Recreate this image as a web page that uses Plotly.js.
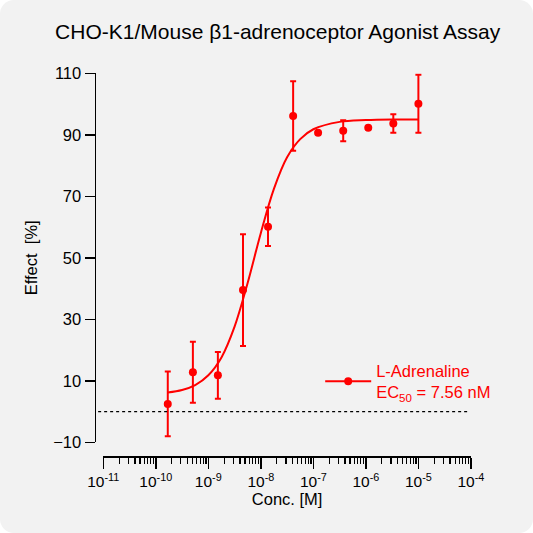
<!DOCTYPE html>
<html>
<head>
<meta charset="utf-8">
<script src="https://cdn.plot.ly/plotly-3.0.1.min.js"></script>
<style>
  html, body { margin: 0; padding: 0; background: #ffffff; }
  #panel {
    width: 533px; height: 533px;
    background: #f2f2f2;
    border-radius: 14px;
    overflow: hidden;
  }
</style>
</head>
<body>
<div id="panel"><div id="chart" style="width:533px;height:533px;"></div></div>
<script>
// Measured points (mean +/- SD), 3-fold dilution series
var conc = [1.69e-10, 5.08e-10, 1.52e-9, 4.57e-9, 1.37e-8, 4.12e-8, 1.23e-7, 3.70e-7, 1.11e-6, 3.33e-6, 1.0e-5];
var effect = [2.5, 12.8, 11.8, 39.5, 60.1, 96.1, 90.7, 91.3, 92.3, 93.7, 100.1];
var effectErr = [10.5, 9.9, 7.6, 18.2, 6.3, 11.3, null, 3.4, null, 3.0, 9.4];

// Fitted curve
var fitConc = [1.69e-10, 3.16e-10, 5.62e-10, 1e-9, 1.78e-9, 3.16e-9, 5.62e-9, 1e-8, 1.78e-8, 3.16e-8, 5.62e-8, 1e-7, 3.16e-7, 1e-6, 3.16e-6, 1e-5];
var fitEffect = [6.2, 7.0, 8.6, 11.8, 17.6, 27.6, 41.9, 58.1, 72.5, 82.7, 88.6, 91.8, 94.2, 94.8, 95.0, 95.0];

var xTickVals = [1e-11, 1e-10, 1e-9, 1e-8, 1e-7, 1e-6, 1e-5, 1e-4];
var xTickText = ['10<sup>-11</sup>', '10<sup>-10</sup>', '10<sup>-9</sup>', '10<sup>-8</sup>',
                 '10<sup>-7</sup>', '10<sup>-6</sup>', '10<sup>-5</sup>', '10<sup>-4</sup>'];
var yTickVals = [-10, 10, 30, 50, 70, 90, 110];

var compoundName = 'L-Adrenaline';
var ec50Label = 'EC<sub>50</sub> = 7.56 nM';

var red = '#ff0000';

var fitTrace = {
  x: fitConc,
  y: fitEffect,
  type: 'scatter',
  mode: 'lines',
  line: { color: red, width: 2, shape: 'spline' },
  showlegend: false,
  hoverinfo: 'skip'
};

var pointTrace = {
  x: conc,
  y: effect,
  type: 'scatter',
  mode: 'markers',
  marker: { color: red, size: 8 },
  error_y: { type: 'data', array: effectErr, visible: true, color: red, thickness: 2, width: 3 },
  showlegend: false
};

// legend entry only
var legendTrace = {
  x: [null],
  y: [null],
  type: 'scatter',
  mode: 'lines+markers',
  name: compoundName + '<br>' + ec50Label,
  line: { color: red, width: 2 },
  marker: { color: red, size: 8 }
};

var layout = {
  width: 533,
  height: 533,
  paper_bgcolor: 'rgba(0,0,0,0)',
  plot_bgcolor: 'rgba(0,0,0,0)',
  margin: { l: 80, r: 50, t: 60, b: 60 },
  font: { family: 'Liberation Sans, Arial, sans-serif', size: 15, color: '#000000' },
  title: {
    text: 'CHO-K1/Mouse β1-adrenoceptor Agonist Assay',
    font: { size: 21, color: '#000000' },
    xref: 'container', yref: 'container',
    x: 0.521, xanchor: 'center',
    y: 0.941, yanchor: 'middle'
  },
  xaxis: {
    type: 'log',
    range: [-11, -4],
    domain: [0.0578, 0.970],
    anchor: 'free',
    position: 0.041,
    showgrid: false,
    zeroline: false,
    showline: true,
    linecolor: '#000000',
    linewidth: 1.5,
    ticks: 'outside',
    ticklen: 11,
    tickwidth: 1.5,
    tickcolor: '#000000',
    tickvals: xTickVals,
    ticktext: xTickText,
    tickfont: { size: 15.5 },
    minor: { ticks: 'outside', ticklen: 6, tickwidth: 1.2, tickcolor: '#000000', dtick: 'D1', showgrid: false },
    title: { text: 'Conc. [M]', font: { size: 16.5 }, standoff: 1 }
  },
  yaxis: {
    range: [-10, 110],
    domain: [0.0743, 0.9678],
    anchor: 'free',
    position: 0.036,
    showgrid: false,
    zeroline: false,
    showline: true,
    linecolor: '#000000',
    linewidth: 1.5,
    ticks: 'outside',
    ticklen: 10,
    tickwidth: 1.5,
    tickcolor: '#000000',
    tickvals: yTickVals,
    tickfont: { size: 16.5 },
    title: { text: 'Effect&nbsp;&nbsp;[%]', font: { size: 16.5 }, standoff: 10 }
  },
  shapes: [{
    type: 'line',
    xref: 'paper', yref: 'y',
    x0: 0.045, x1: 0.963, y0: 0, y1: 0,
    line: { color: '#000000', width: 1.3, dash: 'dot' }
  }],
  showlegend: true,
  legend: {
    x: 0.596, xanchor: 'left',
    y: 0.29, yanchor: 'top',
    bgcolor: 'rgba(0,0,0,0)',
    font: { size: 16.5, color: red },
    itemwidth: 46,
    valign: 'middle'
  }
};

Plotly.newPlot('chart', [fitTrace, pointTrace, legendTrace], layout, { staticPlot: true });
</script>
</body>
</html>
